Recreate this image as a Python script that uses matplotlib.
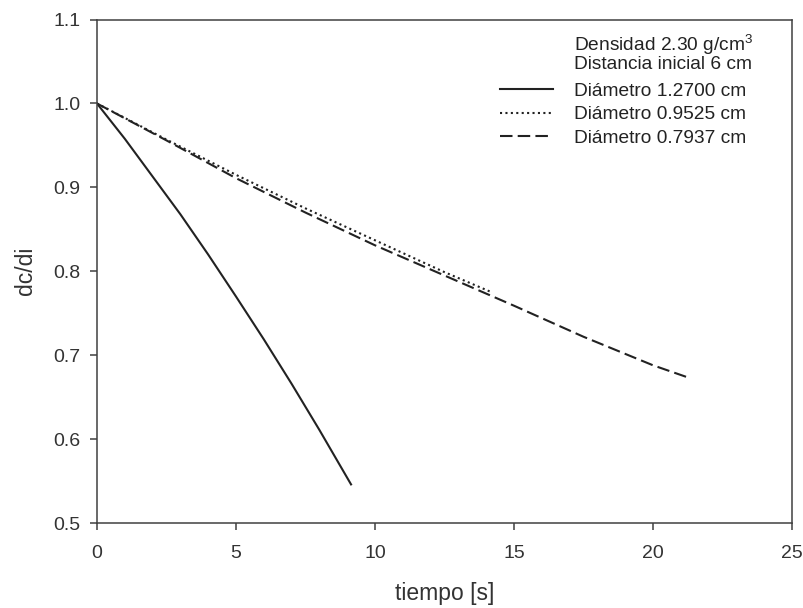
import matplotlib
matplotlib.use("Agg")
import matplotlib.pyplot as plt

plt.rcParams['font.family'] = ['Liberation Sans', 'DejaVu Sans']
plt.rcParams['mathtext.fontset'] = 'custom'
plt.rcParams['mathtext.rm'] = 'Liberation Sans'

# diámetro 1.2700 cm
t1 = [0, 1.0, 2.0, 3.0, 4.0, 5.0, 6.0, 7.0, 8.0, 9.14]
y1 = [1.0, 0.958, 0.913, 0.868, 0.820, 0.770, 0.719, 0.666, 0.611, 0.546]
# diámetro 0.9525 cm
t2 = [0, 2.5, 5.0, 7.5, 10.0, 12.5, 14.2]
y2 = [1.0, 0.957, 0.915, 0.875, 0.837, 0.799, 0.775]
# diámetro 0.7937 cm
t3 = [0, 2.5, 5.0, 7.5, 10.0, 12.5, 15.0, 17.5, 20.0, 21.3]
y3 = [1.0, 0.956, 0.911, 0.870, 0.831, 0.795, 0.759, 0.722, 0.688, 0.673]

etiquetas = ['Diámetro 1.2700 cm', 'Diámetro 0.9525 cm', 'Diámetro 0.7937 cm']
c = '#222222'

fig = plt.figure(figsize=(8.04, 6.08), dpi=100)
ax = fig.add_axes([0.1206, 0.1398, 0.8644, 0.828])

l1, = ax.plot(t1, y1, color=c, lw=1.5, label=etiquetas[0])
l2, = ax.plot(t2, y2, color=c, lw=1.5, dashes=(1, 1.6), label=etiquetas[1])
l3, = ax.plot(t3, y3, color=c, lw=1.5, dashes=(6, 2.5), label=etiquetas[2])

ax.set_xlim(0, 25)
ax.set_ylim(0.5, 1.1)
ax.set_xticks([0, 5, 10, 15, 20, 25])
ax.set_yticks([0.5, 0.6, 0.7, 0.8, 0.9, 1.0, 1.1])
ax.set_yticklabels(['0.5', '0.6', '0.7', '0.8', '0.9', '1.0', '1.1'])

for s in ax.spines.values():
    s.set_color('#404040')
    s.set_linewidth(1.1)
ax.tick_params(axis='both', direction='out', length=5, width=1.1,
               color='#404040', labelsize=14, labelcolor='#333333')
ax.tick_params(axis='x', pad=11)
ax.tick_params(axis='y', pad=7)

ax.set_xlabel('tiempo [s]', fontsize=16.5, color='#333333', labelpad=14)
ax.set_ylabel('dc/di', fontsize=16.5, color='#333333', labelpad=12)

ax.text(0.6863, 0.950, 'Densidad 2.30 g/cm$^{\\mathrm{3}}$', transform=ax.transAxes,
        fontsize=13.8, color='#222222', va='center', ha='left')
ax.text(0.6863, 0.910, 'Distancia inicial 6 cm', transform=ax.transAxes,
        fontsize=13.8, color='#222222', va='center', ha='left')
ax.legend(loc='upper left', bbox_to_anchor=(0.58, 0.875), frameon=False,
          borderpad=0, borderaxespad=0, handlelength=2.76, handletextpad=1.1,
          labelspacing=0.32, fontsize=13.8, labelcolor='#222222')

fig.savefig('out.png', dpi=100, facecolor='white')
